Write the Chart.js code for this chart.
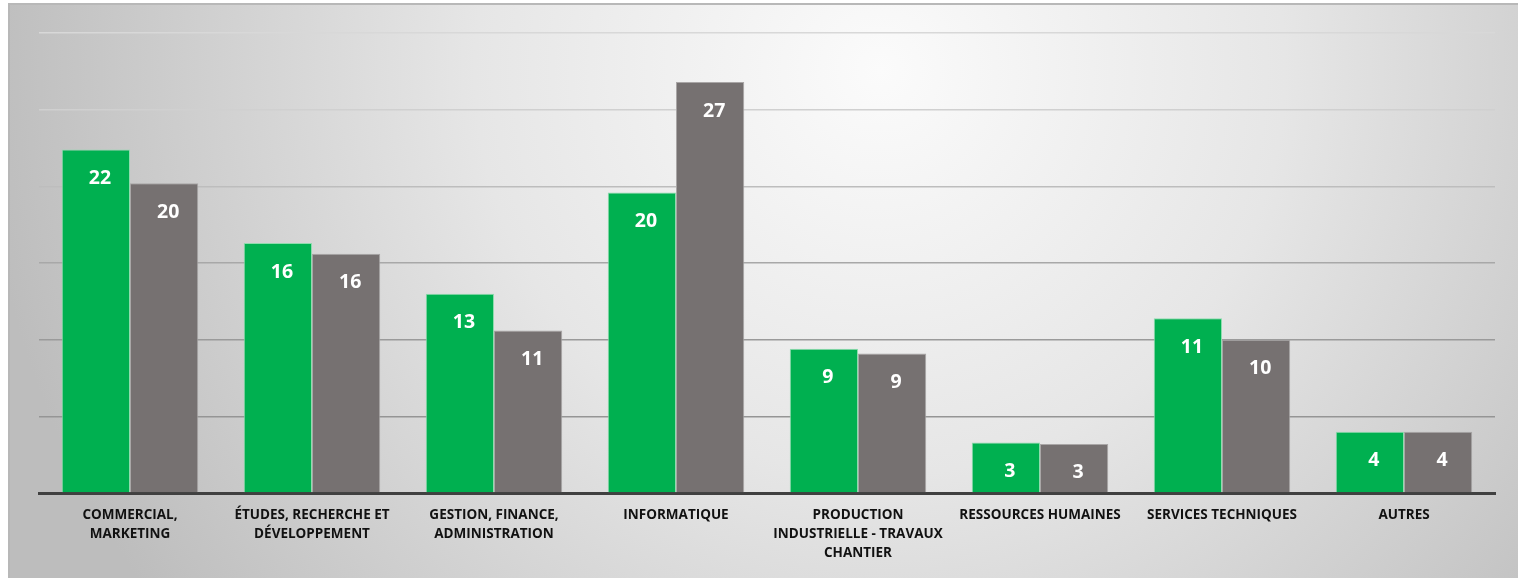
<!DOCTYPE html>
<html>
<head>
<meta charset="utf-8">
<script src="https://cdn.jsdelivr.net/npm/chart.js@4/dist/chart.umd.min.js"></script>
<style>
  html, body { margin: 0; padding: 0; background: #fff; }
  #wrap { width: 1518px; height: 578px; }
</style>
</head>
<body>
<div id="wrap"><canvas id="chart"></canvas></div>
<script>
// categories (multi-line labels as on the picture)
const categories = [
    ['COMMERCIAL,', 'MARKETING'],
    ['ÉTUDES, RECHERCHE ET', 'DÉVELOPPEMENT'],
    ['GESTION, FINANCE,', 'ADMINISTRATION'],
    ['INFORMATIQUE'],
    ['PRODUCTION', 'INDUSTRIELLE - TRAVAUX', 'CHANTIER'],
    ['RESSOURCES HUMAINES'],
    ['SERVICES TECHNIQUES'],
    ['AUTRES']
];

// series values
const greenValues = [22.4, 16.3, 13.0, 19.6, 9.4, 3.3, 11.4, 4.0];
const grayValues  = [20.2, 15.6, 10.6, 26.8, 9.1, 3.2, 10.0, 4.0];

// y axis: 0..30, gridline every 5
const yMax = 30;
const yStep = 5;

// grid lines get darker toward the bottom
const gridColors = { 30: '#d8d8d8', 25: '#d0d0d0', 20: '#bdbdbd', 15: '#a8a8a8', 10: '#9a9a9a', 5: '#959595', 0: '#404040' };

// fond dégradé + bordure
const backgroundPlugin = {
    id: 'bg',
    beforeDraw(chart) {
        const ctx = chart.ctx;
        const w = chart.width, h = chart.height;
        ctx.save();
        ctx.fillStyle = '#ffffff';
        ctx.fillRect(0, 0, w, h);
        const g = ctx.createRadialGradient(880, 70, 0, 880, 70, 900);
        g.addColorStop(0, '#fbfbfb');
        g.addColorStop(0.45, '#e6e6e6');
        g.addColorStop(1, '#bdbdbd');
        ctx.fillStyle = g;
        ctx.fillRect(9, 3, w - 9, h - 3);
        ctx.strokeStyle = '#b8b8b8';
        ctx.lineWidth = 2;
        ctx.beginPath();
        ctx.moveTo(9, h);
        ctx.lineTo(9, 4);
        ctx.lineTo(w, 4);
        ctx.stroke();
        ctx.restore();
    }
};

// étiquettes de valeurs à l'intérieur du haut des barres
const valueLabelPlugin = {
    id: 'valueLabels',
    afterDatasetsDraw(chart) {
        const ctx = chart.ctx;
        ctx.save();
        ctx.fillStyle = '#ffffff';
        ctx.font = 'bold 19.5px "Open Sans"';
        ctx.textAlign = 'center';
        ctx.textBaseline = 'middle';
        chart.data.datasets.forEach((ds, i) => {
            const meta = chart.getDatasetMeta(i);
            meta.data.forEach((bar, j) => {
                ctx.fillText(String(Math.round(ds.data[j])), bar.x + 4, bar.y + 29);
            });
        });
        ctx.restore();
    }
};

new Chart(document.getElementById('chart').getContext('2d'), {
    type: 'bar',
    data: {
        labels: categories,
        datasets: [
            {
                data: greenValues,
                backgroundColor: '#00b050',
                borderColor: '#8fdcae',
                borderWidth: 1,
                categoryPercentage: 0.75,
                barPercentage: 1.0
            },
            {
                data: grayValues,
                backgroundColor: '#767171',
                borderColor: '#a9a6a6',
                borderWidth: 1,
                categoryPercentage: 0.75,
                barPercentage: 1.0
            }
        ]
    },
    options: {
        responsive: true,
        maintainAspectRatio: false,
        animation: false,
        layout: { padding: { left: 39, right: 23, top: 33, bottom: 0 } },
        plugins: {
            legend: { display: false },
            tooltip: { enabled: false }
        },
        scales: {
            x: {
                grid: { display: false, drawTicks: false },
                border: { display: true, color: '#404040', width: 3 },
                ticks: {
                    color: '#111111',
                    font: { family: '"Open Sans"', size: 13.5, weight: 'bold', lineHeight: 1.41 },
                    padding: 13,
                    maxRotation: 0,
                    autoSkip: false
                },
                afterFit(scale) { scale.height = 85; }
            },
            y: {
                min: 0,
                max: yMax,
                ticks: { display: false, stepSize: yStep },
                border: { display: false },
                grid: {
                    drawTicks: false,
                    lineWidth: 1.5,
                    color: (c) => gridColors[c.tick.value] || '#a0a0a0'
                },
                afterFit(scale) { scale.width = 0; }
            }
        }
    },
    plugins: [backgroundPlugin, valueLabelPlugin]
});
</script>
</body>
</html>
